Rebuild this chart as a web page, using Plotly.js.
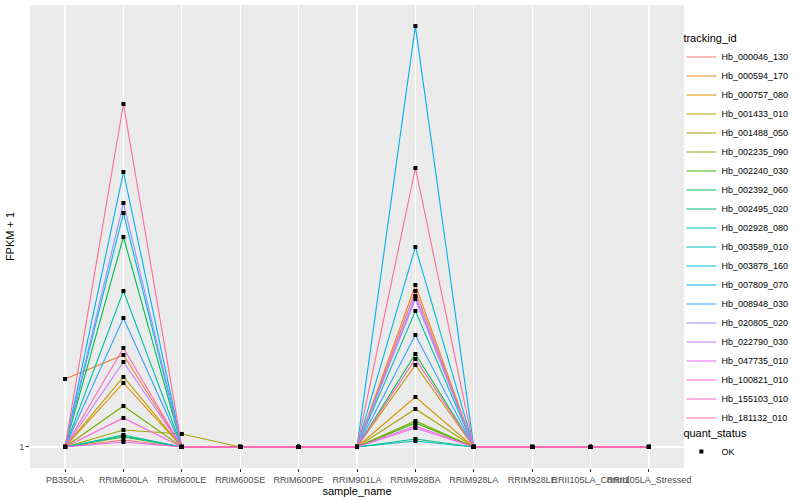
<!DOCTYPE html>
<html>
<head>
<meta charset="utf-8">
<script src="https://cdn.plot.ly/plotly-3.0.1.min.js"></script>
<style>html,body{margin:0;padding:0;background:#fff;}#chart{width:800px;height:500px;}</style>
</head>
<body>
<div id="chart"></div>
<script>
var samples = ["PB350LA","RRIM600LA","RRIM600LE","RRIM600SE","RRIM600PE","RRIM901LA","RRIM928BA","RRIM928LA","RRIM928LE","RRII105LA_Control","RRII105LA_Stressed"];

var trackingIds = ["Hb_000046_130","Hb_000594_170","Hb_000757_080","Hb_001433_010","Hb_001488_050","Hb_002235_090","Hb_002240_030","Hb_002392_060","Hb_002495_020","Hb_002928_080","Hb_003589_010","Hb_003878_160","Hb_007809_070","Hb_008948_030","Hb_020805_020","Hb_022790_030","Hb_047735_010","Hb_100821_010","Hb_155103_010","Hb_181132_010"];

var colors = ["#F8766D","#EA8331","#D89000","#C09B00","#A3A500","#7CAE00","#39B600","#00BB4E","#00BF7D","#00C1A3","#00BFC4","#00BAE0","#00B0F6","#35A2FF","#9590FF","#C77CFF","#E76BF3","#FA62DB","#FF62BC","#FF6C91"];

// FPKM + 1 per sample (same order as samples), one row per tracking_id
var fpkm = [
  [1, 1.35, 1, 1, 1, 1, 8.8, 1, 1, 1, 1],
  [4.4, 5.6, 1, 1, 1, 1, 9.1, 1, 1, 1, 1],
  [1, 4.2, 1, 1, 1, 1, 3.5, 1, 1, 1, 1],
  [1, 4.5, 1, 1, 1, 1, 5.1, 1, 1, 1, 1],
  [1, 1.85, 1.65, 1, 1, 1, 2.9, 1, 1, 1, 1],
  [1, 3.05, 1, 1, 1, 1, 2.3, 1, 1, 1, 1],
  [1, 1.5, 1, 1, 1, 1, 2.2, 1, 1, 1, 1],
  [1, 11.5, 1, 1, 1, 1, 5.65, 1, 1, 1, 1],
  [1, 1.6, 1, 1, 1, 1, 1.4, 1, 1, 1, 1],
  [1, 8.8, 1, 1, 1, 1, 7.8, 1, 1, 1, 1],
  [1, 1.55, 1, 1, 1, 1, 1.3, 1, 1, 1, 1],
  [1, 12.7, 1, 1, 1, 1, 11.0, 1, 1, 1, 1],
  [1, 14.75, 1, 1, 1, 1, 22.05, 1, 1, 1, 1],
  [1, 7.45, 1, 1, 1, 1, 6.6, 1, 1, 1, 1],
  [1, 13.2, 1, 1, 1, 1, 8.55, 1, 1, 1, 1],
  [1, 5.25, 1, 1, 1, 1, 8.4, 1, 1, 1, 1],
  [1, 1.25, 1, 1, 1, 1, 1.95, 1, 1, 1, 1],
  [1, 2.45, 1, 1, 1, 1, 2.05, 1, 1, 1, 1],
  [1, 5.95, 1, 1, 1, 1, 5.4, 1, 1, 1, 1],
  [1, 18.15, 1, 1, 1, 1, 14.95, 1, 1, 1, 1]
];

var yTickVals = [1];
var yTickText = ["1"];

var traces = [];
var px = [], py = [];
for (var i = 0; i < trackingIds.length; i++) {
  traces.push({
    type: "scatter", mode: "lines", x: samples, y: fpkm[i],
    name: trackingIds[i], line: {color: colors[i], width: 1.1},
    legend: "legend", hoverinfo: "skip"
  });
  for (var j = 0; j < samples.length; j++) { px.push(samples[j]); py.push(fpkm[i][j]); }
}
traces.push({
  type: "scatter", mode: "markers", x: px, y: py, name: "OK",
  marker: {color: "#000", symbol: "square", size: 4},
  legend: "legend2", hoverinfo: "skip"
});

var ymin = 1, ymax = 22.05, pad = (ymax - ymin) * 0.05;
var font = "Liberation Sans, Arial, sans-serif";

var layout = {
  width: 800, height: 500,
  margin: {l: 30, r: 116, t: 5, b: 32, autoexpand: false},
  paper_bgcolor: "#ffffff",
  plot_bgcolor: "#EBEBEB",
  font: {family: font, size: 9, color: "#000"},
  showlegend: true,
  xaxis: {
    type: "category", categoryorder: "array", categoryarray: samples,
    range: [-0.6, samples.length - 0.4],
    showgrid: true, gridcolor: "#ffffff", gridwidth: 1.1,
    zeroline: false, showline: false, automargin: false,
    tickangle: 0,
    ticks: "outside", ticklen: 3, tickcolor: "#333333", tickwidth: 1,
    tickfont: {family: font, size: 9, color: "#4D4D4D"},
    title: {text: "sample_name", font: {family: font, size: 11, color: "#000"}, standoff: 0},
    fixedrange: true
  },
  yaxis: {
    range: [ymin - pad, ymax + pad],
    tickmode: "array", tickvals: yTickVals, ticktext: yTickText,
    showgrid: true, gridcolor: "#ffffff", gridwidth: 1.1,
    zeroline: false, showline: false, automargin: false,
    ticks: "outside", ticklen: 3, tickcolor: "#333333", tickwidth: 1,
    tickfont: {family: font, size: 9, color: "#4D4D4D"},
    title: {text: "FPKM + 1", font: {family: font, size: 11, color: "#000"}, standoff: 2},
    fixedrange: true
  },
  legend: {
    x: 0.996, xanchor: "left", y: 0.95, yanchor: "top",
    bgcolor: "rgba(0,0,0,0)",
    title: {text: "tracking_id", font: {family: font, size: 11, color: "#000"}},
    font: {family: font, size: 9, color: "#000"},
    tracegroupgap: 0
  },
  legend2: {
    x: 0.996, xanchor: "left", y: 0.098, yanchor: "top",
    bgcolor: "rgba(0,0,0,0)",
    title: {text: "quant_status", font: {family: font, size: 11, color: "#000"}},
    font: {family: font, size: 9, color: "#000"}
  }
};

Plotly.newPlot("chart", traces, layout, {displayModeBar: false, staticPlot: true});
</script>
</body>
</html>
